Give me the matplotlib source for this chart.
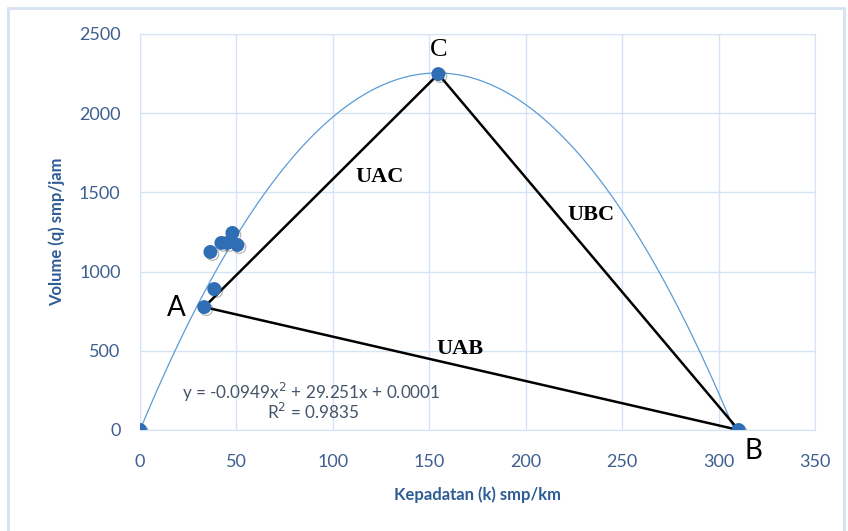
import numpy as np
import matplotlib.pyplot as plt
import matplotlib.patheffects as pe
from matplotlib.patches import Rectangle

# Data pengamatan kepadatan (k) dan volume (q)
kepadatan = [0, 33.3, 38.5, 36.5, 42.2, 47.9, 45.3, 50.5, 154.7, 310.4]
volume = [0, 776, 890, 1124, 1181, 1244, 1181, 1168, 2247, 0]

# Koefisien regresi polinomial orde 2
a, b, c = -0.0949, 29.251, 0.0001

# Titik segitiga A, B, C
titik_A = (33.3, 776)
titik_B = (310.4, 0)
titik_C = (154.7, 2247)

tick_col = '#3F5F8F'
grid_col = '#D5E3F5'

plt.rcParams['font.family'] = ['Lato', 'DejaVu Sans']

fig = plt.figure(figsize=(8.48, 5.31), dpi=100)
fig.patches.append(Rectangle((8 / 848, -0.1), 836 / 848, 1.1 - 8 / 531,
                             transform=fig.transFigure, fill=False,
                             edgecolor='#D6E2F2', lw=2))
ax = fig.add_axes([140 / 848, 1 - 430 / 531, 675 / 848, 396 / 531])

# kurva regresi
kk = np.linspace(0, 308.5, 400)
ax.plot(kk, a * kk**2 + b * kk + c, color='#5B9BD5', lw=0.9, zorder=3)

# segitiga UAC, UBC, UAB
for p, q in [(titik_A, titik_C), (titik_C, titik_B), (titik_B, titik_A)]:
    ax.plot([p[0], q[0]], [p[1], q[1]], color='black', lw=1.8, zorder=4)

ax.plot(kepadatan, volume, 'o', color='#2F6DB5', ms=9, mec='#2F6DB5', zorder=5,
        path_effects=[pe.SimpleLineShadow(offset=(1.5, -1.5), shadow_color='#404040', alpha=0.35),
                      pe.Normal()])

ax.set_xlim(0, 350)
ax.set_ylim(0, 2500)
ax.set_xticks(range(0, 351, 50))
ax.set_yticks(range(0, 2501, 500))
ax.grid(True, color=grid_col, lw=1)
ax.set_axisbelow(True)
for s in ax.spines.values():
    s.set_color(grid_col)
ax.tick_params(length=0, colors=tick_col, labelsize=13)
ax.tick_params(axis='x', pad=17)
ax.tick_params(axis='y', pad=14)

ax.set_xlabel('Kepadatan (k) smp/km', color='#2E5C94', fontsize=12, fontweight='bold', labelpad=12)
ax.set_ylabel('Volume (q) smp/jam', color='#2E5C94', fontsize=12, fontweight='bold', labelpad=10)

ax.text(19, 770, 'A', fontsize=20, ha='center', va='center')
ax.text(318, -130, 'B', fontsize=20, ha='center', va='center')
ax.text(155, 2400, 'C', fontsize=19, ha='center', va='center', family='Liberation Serif')

ax.text(124, 1600, 'UAC', fontsize=16, fontweight='bold', family='Liberation Serif', ha='center', va='center')
ax.text(234, 1355, 'UBC', fontsize=16, fontweight='bold', family='Liberation Serif', ha='center', va='center')
ax.text(166, 510, 'UAB', fontsize=16, fontweight='bold', family='Liberation Serif', ha='center', va='center')

ax.text(89, 240, 'y = -0.0949x$^2$ + 29.251x + 0.0001', fontsize=12.3, color='#44546A',
        ha='center', va='center')
ax.text(90, 113, 'R$^2$ = 0.9835', fontsize=12.3, color='#44546A', ha='center', va='center')

fig.savefig('out.png', dpi=100)
